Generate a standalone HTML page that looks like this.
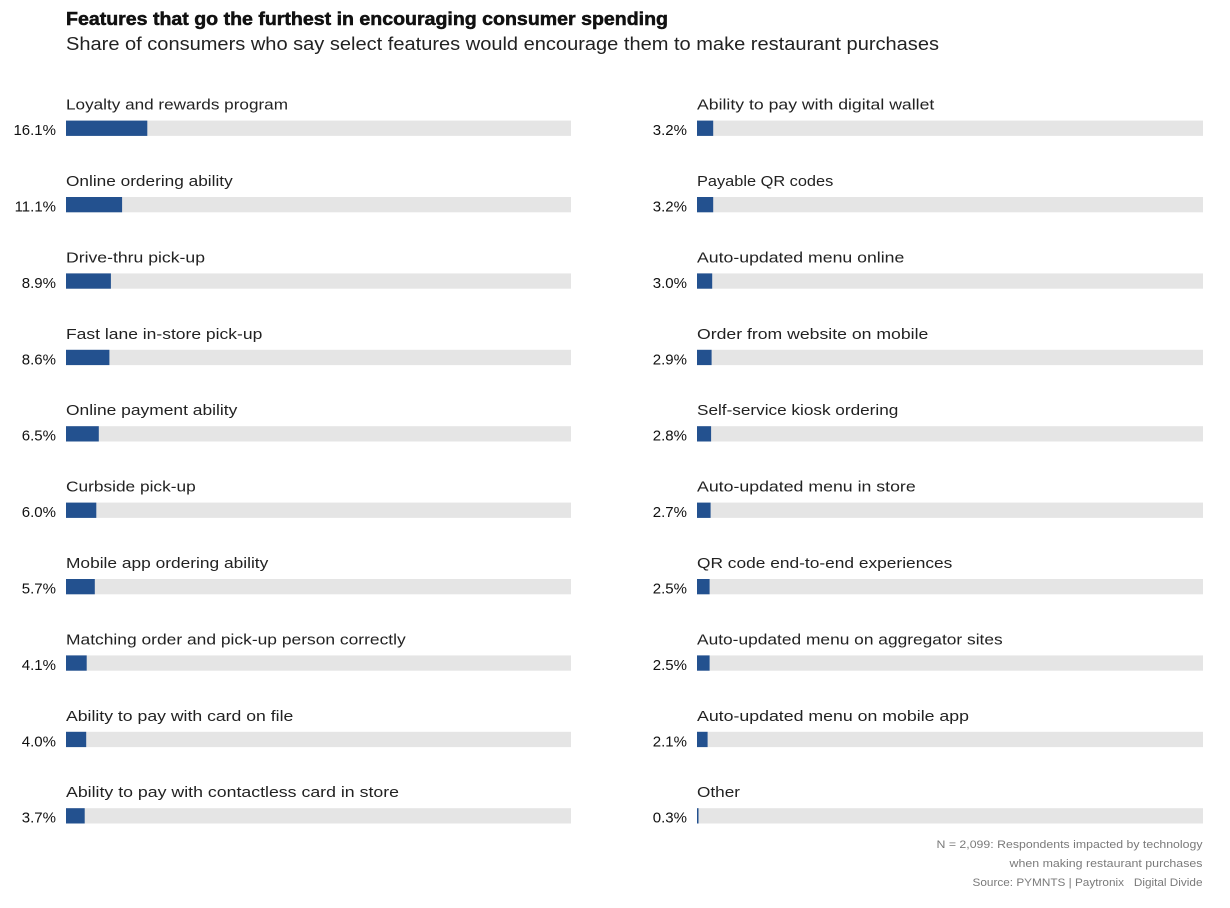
<!DOCTYPE html>
<html>
<head>
<meta charset="utf-8">
<style>
html,body{margin:0;padding:0;background:#fff;}
svg{display:block;}
text{font-family:"Liberation Sans",Arial,sans-serif;}
.lab{font-size:15px;fill:#222;}
.val{font-size:15px;fill:#111;text-anchor:end;}
.trk{fill:#e5e5e5;}
.bar{fill:#23518f;}
.ft{font-size:11px;fill:#7a7a7a;text-anchor:end;}
</style>
</head>
<body>
<svg width="1230" height="908" viewBox="0 0 1230 908" xmlns="http://www.w3.org/2000/svg">
<text x="66" y="25" font-size="18" font-weight="bold" fill="#111" stroke="#111" stroke-width="0.5" textLength="602" lengthAdjust="spacingAndGlyphs">Features that go the furthest in encouraging consumer spending</text>
<text x="66" y="50" font-size="18.5" fill="#222" textLength="873" lengthAdjust="spacingAndGlyphs">Share of consumers who say select features would encourage them to make restaurant purchases</text>

<!-- Left column -->
<g>
<rect class="trk" x="66" y="120.6" width="505" height="15.3"/><rect class="bar" x="66" y="120.6" width="81.3" height="15.3"/>
<text class="lab" x="66" y="109.6" textLength="222" lengthAdjust="spacingAndGlyphs">Loyalty and rewards program</text>
<text class="val" x="56" y="135.1">16.1%</text>

<rect class="trk" x="66" y="197.0" width="505" height="15.3"/><rect class="bar" x="66" y="197.0" width="56.1" height="15.3"/>
<text class="lab" x="66" y="186" textLength="166.7" lengthAdjust="spacingAndGlyphs">Online ordering ability</text>
<text class="val" x="56" y="211.5">11.1%</text>

<rect class="trk" x="66" y="273.4" width="505" height="15.3"/><rect class="bar" x="66" y="273.4" width="44.9" height="15.3"/>
<text class="lab" x="66" y="262.4" textLength="139" lengthAdjust="spacingAndGlyphs">Drive-thru pick-up</text>
<text class="val" x="56" y="287.9">8.9%</text>

<rect class="trk" x="66" y="349.8" width="505" height="15.3"/><rect class="bar" x="66" y="349.8" width="43.4" height="15.3"/>
<text class="lab" x="66" y="338.8" textLength="196.3" lengthAdjust="spacingAndGlyphs">Fast lane in-store pick-up</text>
<text class="val" x="56" y="364.3">8.6%</text>

<rect class="trk" x="66" y="426.2" width="505" height="15.3"/><rect class="bar" x="66" y="426.2" width="32.8" height="15.3"/>
<text class="lab" x="66" y="415.2" textLength="171.3" lengthAdjust="spacingAndGlyphs">Online payment ability</text>
<text class="val" x="56" y="440.7">6.5%</text>

<rect class="trk" x="66" y="502.6" width="505" height="15.3"/><rect class="bar" x="66" y="502.6" width="30.3" height="15.3"/>
<text class="lab" x="66" y="491.6" textLength="129.7" lengthAdjust="spacingAndGlyphs">Curbside pick-up</text>
<text class="val" x="56" y="517.1">6.0%</text>

<rect class="trk" x="66" y="579.0" width="505" height="15.3"/><rect class="bar" x="66" y="579.0" width="28.8" height="15.3"/>
<text class="lab" x="66" y="568" textLength="202.3" lengthAdjust="spacingAndGlyphs">Mobile app ordering ability</text>
<text class="val" x="56" y="593.5">5.7%</text>

<rect class="trk" x="66" y="655.4" width="505" height="15.3"/><rect class="bar" x="66" y="655.4" width="20.7" height="15.3"/>
<text class="lab" x="66" y="644.4" textLength="339.7" lengthAdjust="spacingAndGlyphs">Matching order and pick-up person correctly</text>
<text class="val" x="56" y="669.9">4.1%</text>

<rect class="trk" x="66" y="731.8" width="505" height="15.3"/><rect class="bar" x="66" y="731.8" width="20.2" height="15.3"/>
<text class="lab" x="66" y="720.8" textLength="227.3" lengthAdjust="spacingAndGlyphs">Ability to pay with card on file</text>
<text class="val" x="56" y="746.3">4.0%</text>

<rect class="trk" x="66" y="808.2" width="505" height="15.3"/><rect class="bar" x="66" y="808.2" width="18.7" height="15.3"/>
<text class="lab" x="66" y="797.2" textLength="333" lengthAdjust="spacingAndGlyphs">Ability to pay with contactless card in store</text>
<text class="val" x="56" y="822.7">3.7%</text>
</g>

<!-- Right column -->
<g>
<rect class="trk" x="697" y="120.6" width="506" height="15.3"/><rect class="bar" x="697" y="120.6" width="16.2" height="15.3"/>
<text class="lab" x="697" y="109.6" textLength="237.3" lengthAdjust="spacingAndGlyphs">Ability to pay with digital wallet</text>
<text class="val" x="687" y="135.1">3.2%</text>

<rect class="trk" x="697" y="197.0" width="506" height="15.3"/><rect class="bar" x="697" y="197.0" width="16.2" height="15.3"/>
<text class="lab" x="697" y="186" textLength="136.3" lengthAdjust="spacingAndGlyphs">Payable QR codes</text>
<text class="val" x="687" y="211.5">3.2%</text>

<rect class="trk" x="697" y="273.4" width="506" height="15.3"/><rect class="bar" x="697" y="273.4" width="15.2" height="15.3"/>
<text class="lab" x="697" y="262.4" textLength="207.3" lengthAdjust="spacingAndGlyphs">Auto-updated menu online</text>
<text class="val" x="687" y="287.9">3.0%</text>

<rect class="trk" x="697" y="349.8" width="506" height="15.3"/><rect class="bar" x="697" y="349.8" width="14.6" height="15.3"/>
<text class="lab" x="697" y="338.8" textLength="231.3" lengthAdjust="spacingAndGlyphs">Order from website on mobile</text>
<text class="val" x="687" y="364.3">2.9%</text>

<rect class="trk" x="697" y="426.2" width="506" height="15.3"/><rect class="bar" x="697" y="426.2" width="14.1" height="15.3"/>
<text class="lab" x="697" y="415.2" textLength="201.3" lengthAdjust="spacingAndGlyphs">Self-service kiosk ordering</text>
<text class="val" x="687" y="440.7">2.8%</text>

<rect class="trk" x="697" y="502.6" width="506" height="15.3"/><rect class="bar" x="697" y="502.6" width="13.6" height="15.3"/>
<text class="lab" x="697" y="491.6" textLength="218.7" lengthAdjust="spacingAndGlyphs">Auto-updated menu in store</text>
<text class="val" x="687" y="517.1">2.7%</text>

<rect class="trk" x="697" y="579.0" width="506" height="15.3"/><rect class="bar" x="697" y="579.0" width="12.6" height="15.3"/>
<text class="lab" x="697" y="568" textLength="255.3" lengthAdjust="spacingAndGlyphs">QR code end-to-end experiences</text>
<text class="val" x="687" y="593.5">2.5%</text>

<rect class="trk" x="697" y="655.4" width="506" height="15.3"/><rect class="bar" x="697" y="655.4" width="12.6" height="15.3"/>
<text class="lab" x="697" y="644.4" textLength="305.7" lengthAdjust="spacingAndGlyphs">Auto-updated menu on aggregator sites</text>
<text class="val" x="687" y="669.9">2.5%</text>

<rect class="trk" x="697" y="731.8" width="506" height="15.3"/><rect class="bar" x="697" y="731.8" width="10.6" height="15.3"/>
<text class="lab" x="697" y="720.8" textLength="272" lengthAdjust="spacingAndGlyphs">Auto-updated menu on mobile app</text>
<text class="val" x="687" y="746.3">2.1%</text>

<rect class="trk" x="697" y="808.2" width="506" height="15.3"/><rect class="bar" x="697" y="808.2" width="1.5" height="15.3"/>
<text class="lab" x="697" y="797.2" textLength="43" lengthAdjust="spacingAndGlyphs">Other</text>
<text class="val" x="687" y="822.7">0.3%</text>
</g>

<text class="ft" x="1202.5" y="848" textLength="266" lengthAdjust="spacingAndGlyphs">N = 2,099: Respondents impacted by technology</text>
<text class="ft" x="1202.5" y="867" textLength="193" lengthAdjust="spacingAndGlyphs">when making restaurant purchases</text>
<text class="ft" x="1202.5" y="886" textLength="230" lengthAdjust="spacingAndGlyphs">Source: PYMNTS | Paytronix&#160;&#160;&#160;Digital Divide</text>
</svg>
</body>
</html>
